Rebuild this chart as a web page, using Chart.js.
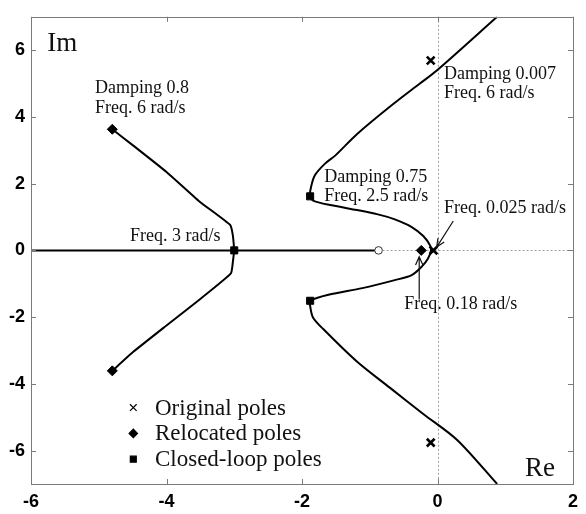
<!DOCTYPE html>
<html>
<head>
<meta charset="utf-8">
<script src="https://cdn.jsdelivr.net/npm/chart.js@4.4.1/dist/chart.umd.min.js"></script>
<style>
  html, body { margin: 0; padding: 0; background: #ffffff; }
  #wrap { width: 586px; height: 514px; }
</style>
</head>
<body>
<div id="wrap"><canvas id="locus" width="586" height="514"></canvas></div>
<script>
// Axis ticks
const xTicks = [-6, -4, -2, 0, 2];
const yTicks = [-6, -4, -2, 0, 2, 4, 6];

// Root-locus branches, [Re, Im]
const realAxisLocus = [[-6, 0], [-0.87, 0]];
const leftBranchUpper = [[-4.80, 3.63], [-4.49, 3.14], [-4.00, 2.35], [-3.51, 1.46], [-3.06, 0.76], [-3.02, 0.44], [-3.00, 0]];
const leftBranchLower = [[-3.00, 0], [-3.02, -0.34], [-3.05, -0.69], [-3.51, -1.47], [-4.00, -2.25], [-4.49, -3.04], [-4.80, -3.61]];
const rightBranch = [
  [0.88, 7.0], [-0.01, 5.39], [-0.26, 5.00], [-0.70, 4.31], [-1.19, 3.48], [-1.51, 2.84],
  [-1.66, 2.60], [-1.81, 2.25], [-1.87, 1.87], [-1.88, 1.62], [-1.81, 1.47], [-1.37, 1.28],
  [-0.88, 1.08], [-0.63, 0.93], [-0.38, 0.70], [-0.21, 0.43], [-0.11, 0.15], [-0.096, 0],
  [-0.14, -0.24], [-0.23, -0.48], [-0.38, -0.74], [-0.63, -0.89], [-1.11, -1.13], [-1.61, -1.33],
  [-1.88, -1.51], [-1.88, -1.66], [-1.84, -2.00], [-1.69, -2.35], [-1.19, -3.33], [-0.70, -4.12],
  [-0.21, -4.90], [0.29, -5.68], [0.88, -7.0]
];

// Pole / zero locations
const originalPoles = [[-0.10, 5.69], [-0.10, -5.76], [-0.06, 0]];
const relocatedPoles = [[-4.80, 3.63], [-4.80, -3.61], [-0.24, 0]];
const closedLoopPoles = [[-1.88, 1.62], [-1.88, -1.51], [-3.00, 0]];
const openLoopZero = [[-0.87, 0]];

// Legend entries
const legendLabels = ['Original poles', 'Relocated poles', 'Closed-loop poles'];

// Text annotations: anchor [Re, Im] of the first baseline, then lines
const notes = [
  { at: [-5.055, 4.71], lines: ['Damping 0.8', 'Freq. 6 rad/s'] },
  { at: [-4.54, 0.285], lines: ['Freq. 3 rad/s'] },
  { at: [0.096, 5.15], lines: ['Damping 0.007', 'Freq. 6 rad/s'] },
  { at: [-1.67, 2.06], lines: ['Damping 0.75', 'Freq. 2.5 rad/s'] },
  { at: [0.096, 1.13], lines: ['Freq. 0.025 rad/s'] },
  { at: [-0.49, -1.76], lines: ['Freq. 0.18 rad/s'] }
];
// Arrows: [tail, tip]
const arrows = [
  [[0.233, 0.88], [-0.012, 0.10]],
  [[-0.27, -1.47], [-0.27, -0.19]]
];

const toXY = arr => arr.map(([x, y]) => ({ x, y }));
const SERIF = '"Liberation Serif", "Times New Roman", serif';
const SANS = '"Liberation Sans", Arial, sans-serif';

const marker = {
  original: { pointStyle: 'crossRot', radius: 5.5, borderWidth: 2.6 },
  relocated: { pointStyle: 'rectRot', radius: 5, borderWidth: 1 },
  closed: { pointStyle: 'rect', radius: 5, borderWidth: 1 }
};

const lineSet = (data, tension) => ({
  data: toXY(data), showLine: true, borderColor: '#000', borderWidth: 2,
  pointRadius: 0, pointHoverRadius: 0, fill: false, order: 2, tension: tension || 0
});
const pointSet = (data, m) => ({
  data: toXY(data), showLine: false, pointStyle: m.pointStyle,
  pointRadius: m.radius, pointHoverRadius: m.radius, pointBorderWidth: m.borderWidth,
  borderColor: '#000', backgroundColor: '#000', order: 0
});

const decor = {
  id: 'decor',
  beforeDatasetsDraw(chart) {
    const { ctx, chartArea: a, scales: { x, y } } = chart;
    ctx.save();
    ctx.strokeStyle = '#a0a0a0';
    ctx.lineWidth = 1;
    ctx.setLineDash([2, 2]);
    const x0 = Math.round(x.getPixelForValue(0)) + 0.5;
    ctx.beginPath(); ctx.moveTo(x0, a.top); ctx.lineTo(x0, a.bottom); ctx.stroke();
    const y0 = Math.round(y.getPixelForValue(0)) + 0.5;
    ctx.beginPath(); ctx.moveTo(x.getPixelForValue(openLoopZero[0][0]), y0); ctx.lineTo(a.right, y0); ctx.stroke();
    ctx.restore();
  },
  afterDatasetsDraw(chart) {
    const { ctx, chartArea: a, scales: { x, y } } = chart;
    ctx.save();
    // frame
    ctx.strokeStyle = '#7a7a7a';
    ctx.lineWidth = 1;
    ctx.strokeRect(Math.round(a.left) + 0.5, Math.round(a.top) + 0.5, Math.round(a.right - a.left), Math.round(a.bottom - a.top));
    // inward ticks on all four sides
    const tl = 5;
    ctx.beginPath();
    xTicks.forEach(v => {
      const px = Math.round(x.getPixelForValue(v)) + 0.5;
      ctx.moveTo(px, a.bottom); ctx.lineTo(px, a.bottom - tl);
      ctx.moveTo(px, a.top); ctx.lineTo(px, a.top + tl);
    });
    yTicks.forEach(v => {
      const py = Math.round(y.getPixelForValue(v)) + 0.5;
      ctx.moveTo(a.left, py); ctx.lineTo(a.left + tl, py);
      ctx.moveTo(a.right, py); ctx.lineTo(a.right - tl, py);
    });
    ctx.stroke();

    // arrows
    ctx.strokeStyle = '#111';
    ctx.lineWidth = 1.2;
    arrows.forEach(([t, h]) => {
      const x1 = x.getPixelForValue(t[0]), y1 = y.getPixelForValue(t[1]);
      const x2 = x.getPixelForValue(h[0]), y2 = y.getPixelForValue(h[1]);
      const ang = Math.atan2(y2 - y1, x2 - x1);
      const hl = 9, hw = 0.42;
      ctx.beginPath();
      ctx.moveTo(x1, y1); ctx.lineTo(x2, y2);
      ctx.moveTo(x2 - hl * Math.cos(ang - hw), y2 - hl * Math.sin(ang - hw));
      ctx.lineTo(x2, y2);
      ctx.lineTo(x2 - hl * Math.cos(ang + hw), y2 - hl * Math.sin(ang + hw));
      ctx.stroke();
    });

    // annotations
    ctx.fillStyle = '#111';
    ctx.textBaseline = 'alphabetic';
    ctx.textAlign = 'left';
    ctx.font = '18px ' + SERIF;
    notes.forEach(n => {
      const px = x.getPixelForValue(n.at[0]);
      const py = y.getPixelForValue(n.at[1]);
      n.lines.forEach((s, i) => ctx.fillText(s, px, py + i * 19.5));
    });

    // axis names
    ctx.font = '27px ' + SERIF;
    ctx.fillText('Im', x.getPixelForValue(-5.76), y.getPixelForValue(5.99));
    ctx.fillText('Re', x.getPixelForValue(1.29), y.getPixelForValue(-6.77));

    // legend
    const styles = [marker.original, marker.relocated, marker.closed];
    const lx = x.getPixelForValue(-4.49);
    const tx = x.getPixelForValue(-4.17);
    const ly = y.getPixelForValue(-4.71);
    ctx.font = '23px ' + SERIF;
    ctx.textBaseline = 'middle';
    legendLabels.forEach((s, i) => {
      const yy = ly + i * 25.8;
      ctx.fillStyle = '#000';
      ctx.strokeStyle = '#000';
      const m = styles[i];
      Chart.helpers.drawPoint(ctx, { pointStyle: m.pointStyle, radius: m.radius - 0.8, borderWidth: m.borderWidth, rotation: 0 }, lx, yy);
      ctx.fillStyle = '#111';
      ctx.fillText(s, tx, yy + 1);
    });
    ctx.restore();
  }
};

new Chart(document.getElementById('locus'), {
  type: 'scatter',
  data: {
    datasets: [
      lineSet(realAxisLocus),
      lineSet(leftBranchUpper, 0.15),
      lineSet(leftBranchLower, 0.15),
      lineSet(rightBranch, 0.3),
      pointSet(originalPoles, marker.original),
      pointSet(relocatedPoles, marker.relocated),
      pointSet(closedLoopPoles, marker.closed),
      {
        data: toXY(openLoopZero), showLine: false, pointStyle: 'circle',
        pointRadius: 3.8, pointHoverRadius: 3.8, pointBorderWidth: 1,
        borderColor: '#333', backgroundColor: '#fff', order: 1
      }
    ]
  },
  options: {
    responsive: false,
    animation: false,
    layout: { padding: { left: 0, top: 9, right: 13, bottom: 0 } },
    plugins: { legend: { display: false }, tooltip: { enabled: false } },
    scales: {
      x: {
        type: 'linear', min: -6, max: 2,
        afterFit: s => { s.height = 30; },
        afterBuildTicks: s => { s.ticks = xTicks.map(v => ({ value: v })); },
        grid: { display: false, drawTicks: false },
        border: { display: false },
        ticks: { color: '#000', padding: 7, font: { family: SANS, size: 18, weight: 'bold' }, callback: v => String(v), maxRotation: 0 }
      },
      y: {
        type: 'linear', min: -7, max: 7,
        afterFit: s => { s.width = 31; },
        afterBuildTicks: s => { s.ticks = yTicks.map(v => ({ value: v })); },
        grid: { display: false, drawTicks: false },
        border: { display: false },
        ticks: { color: '#000', padding: 6, font: { family: SANS, size: 18, weight: 'bold' }, callback: v => String(v) }
      }
    }
  },
  plugins: [decor]
});
</script>
</body>
</html>
